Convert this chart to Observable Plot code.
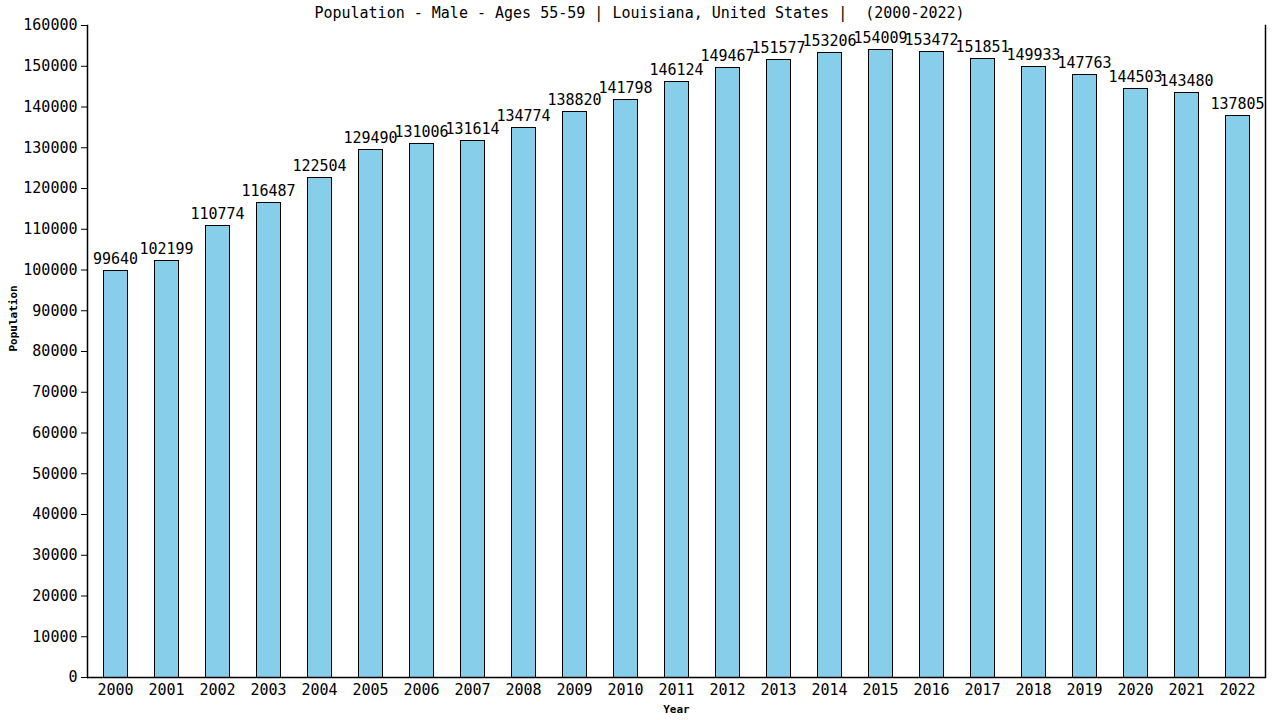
<!DOCTYPE html>
<html>
<head>
<meta charset="utf-8">
<script src="https://cdn.jsdelivr.net/npm/d3@7"></script>
<script src="https://cdn.jsdelivr.net/npm/@observablehq/plot@0.6"></script>
<style>
  html, body { margin: 0; padding: 0; background: #fff; }
  #chart { width: 1280px; height: 720px; }
</style>
</head>
<body>
<div id="chart"></div>
<script>
const years = ["2000","2001","2002","2003","2004","2005","2006","2007","2008","2009","2010","2011","2012","2013","2014","2015","2016","2017","2018","2019","2020","2021","2022"];
const population = [99640,102199,110774,116487,122504,129490,131006,131614,134774,138820,141798,146124,149467,151577,153206,154009,153472,151851,149933,147763,144503,143480,137805];
const yTicks = d3.range(0, 160001, 10000);
const titleText = "Population - Male - Ages 55-59 | Louisiana, United States |  (2000-2022)";
const xTitle = "Year";
const yTitle = "Population";

const data = years.map((y, i) => ({year: y, value: population[i]}));
const font = "'DejaVu Sans Mono', monospace";

const chart = Plot.plot({
  width: 1280,
  height: 720,
  marginTop: 25,
  marginBottom: 43,
  marginLeft: 87,
  marginRight: 15,
  style: {fontFamily: font, fontSize: "15px", color: "#000", background: "#fff", overflow: "visible"},
  x: {domain: years, type: "band", paddingInner: 0.53, paddingOuter: 0.265},
  y: {domain: [0, 160000]},
  marks: [
    Plot.barY(data, {x: "year", y: "value", fill: "#87CEEB", stroke: "#000", strokeWidth: 1, shapeRendering: "crispEdges"}),
    Plot.text(data, {x: "year", y: "value", text: d => String(d.value), lineAnchor: "bottom", dy: -7, fontSize: 15, fill: "#000"}),
    Plot.axisY({ticks: yTicks, tickFormat: d => String(d), tickSize: 6, tickPadding: 4, fontSize: 15, label: null, stroke: "#000"}),
    Plot.axisX({tickSize: 0, tickPadding: 7, fontSize: 15, label: null}),
    Plot.ruleY([0], {stroke: "#000", strokeWidth: 1.5}),
    Plot.frame({anchor: "left", stroke: "#000", strokeWidth: 1.5}),
    Plot.frame({anchor: "right", stroke: "#000", strokeWidth: 1.5}),
    Plot.text([titleText], {frameAnchor: "top", dx: -37, dy: -12, text: d => d, fontSize: 15, lineAnchor: "middle"}),
    Plot.text([xTitle], {frameAnchor: "bottom", dy: 32, text: d => d, fontSize: 11, fontWeight: "bold", lineAnchor: "middle"}),
    Plot.text([yTitle], {frameAnchor: "left", dx: -74, text: d => d, fontSize: 11, fontWeight: "bold", rotate: -90, lineAnchor: "middle"})
  ]
});
document.getElementById("chart").appendChild(chart);
</script>
</body>
</html>
